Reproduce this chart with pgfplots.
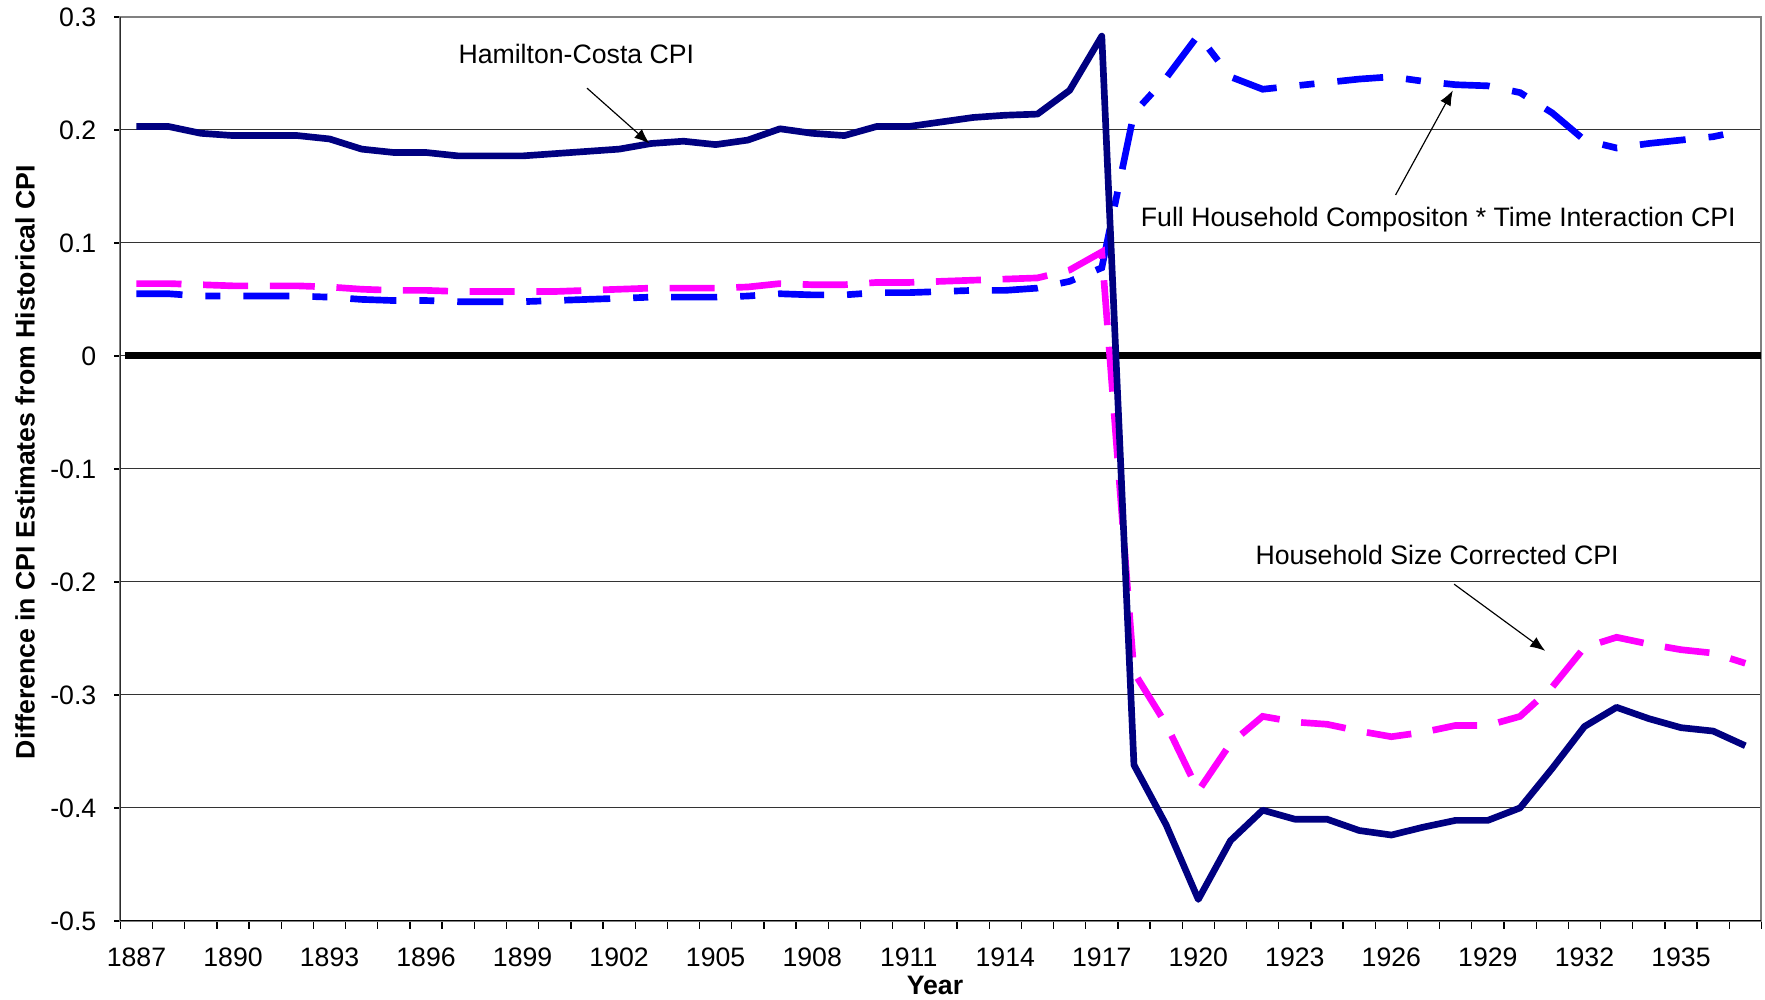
\documentclass[border=0pt]{standalone}
\usepackage{pgfplots}
\pgfplotsset{compat=1.18}
\usepackage{pgfplotstable}
\usepackage{fontspec}
\setmainfont{Liberation Sans}
\usetikzlibrary{arrows.meta}
\definecolor{navyc}{RGB}{0,0,128}
\definecolor{bluec}{RGB}{0,0,255}
\definecolor{magc}{RGB}{255,0,255}
\newcommand{\fs}{\fontsize{8}{9.6}\selectfont}

\pgfplotstableread{
year ham hsc full
1887 0.203 0.064 0.055
1888 0.203 0.064 0.055
1889 0.197 0.063 0.053
1890 0.195 0.062 0.053
1891 0.195 0.062 0.053
1892 0.195 0.062 0.053
1893 0.192 0.061 0.052
1894 0.183 0.059 0.050
1895 0.180 0.058 0.049
1896 0.180 0.058 0.049
1897 0.177 0.057 0.048
1898 0.177 0.057 0.048
1899 0.177 0.057 0.048
1900 0.179 0.057 0.049
1901 0.181 0.058 0.050
1902 0.183 0.059 0.051
1903 0.188 0.060 0.052
1904 0.190 0.060 0.052
1905 0.187 0.060 0.052
1906 0.191 0.061 0.053
1907 0.201 0.064 0.055
1908 0.197 0.063 0.054
1909 0.195 0.063 0.054
1910 0.203 0.065 0.056
1911 0.203 0.065 0.056
1912 0.207 0.066 0.057
1913 0.211 0.067 0.058
1914 0.213 0.068 0.058
1915 0.214 0.069 0.060
1916 0.235 0.076 0.066
1917 0.283 0.092 0.078
1918 -0.362 -0.280 0.215
1919 -0.415 -0.326 0.246
1920 -0.481 -0.385 0.284
1921 -0.429 -0.343 0.247
1922 -0.402 -0.319 0.236
1923 -0.410 -0.324 0.239
1924 -0.410 -0.326 0.242
1925 -0.420 -0.332 0.245
1926 -0.424 -0.337 0.247
1927 -0.417 -0.333 0.243
1928 -0.411 -0.327 0.240
1929 -0.411 -0.327 0.239
1930 -0.400 -0.319 0.233
1931 -0.365 -0.293 0.215
1932 -0.328 -0.258 0.191
1933 -0.311 -0.249 0.184
1934 -0.321 -0.255 0.188
1935 -0.329 -0.260 0.191
1936 -0.332 -0.263 0.194
1937 -0.345 -0.272 0.200
}\datatable

\begin{document}
\begin{tikzpicture}
\path[use as bounding box] (-36.12pt,-23.46pt) rectangle (493.38pt,276.27pt);
\begin{axis}[
  at={(0,0)}, anchor=south west,
  scale only axis, width=492.3pt, height=271.2pt,
  xmin=1886.5, xmax=1937.5, ymin=-0.5, ymax=0.3,
  axis line style={draw=gray, line width=0.6pt},
  xtick={1887,1890,...,1935},
  minor xtick={1886.5,1887.5,...,1937.5},
  ytick={-0.5,-0.4,-0.3,-0.2,-0.1,0,0.1,0.2,0.3},
  major x tick style={draw=none},
  tick align=outside,
  tick pos=left,
  major tick length=1.8pt, minor tick length=2.4pt,
  tick style={black, line width=0.4pt},
  ymajorgrids, grid style={black!80, line width=0.35pt},
  /pgf/number format/assume math mode=true,
  /pgf/number format/set thousands separator={},
  yticklabel style={/pgf/number format/fixed, /pgf/number format/precision=1, font=\fs, xshift=-1.9pt},
  xticklabel style={font=\fs, yshift=-2.7pt},
  every axis y label/.style={at={(axis description cs:0,0.5075)}, xshift=-28.6pt, rotate=90, anchor=center, font=\fs\bfseries},
  every axis x label/.style={at={(axis description cs:0.4964,0)}, yshift=-19.3pt, anchor=center, font=\fs\bfseries},
  ylabel={Difference in CPI Estimates from Historical CPI},
  xlabel={Year},
]
\addplot[black, line width=2.1pt, forget plot] coordinates {(1886.65,0) (1937.5,0)};
\addplot[bluec, line width=2pt, dash pattern=on 13.8pt off 6.9pt on 4.5pt off 6.9pt] table[x=year, y=full] {\datatable};
\addplot[magc, line width=2pt, dash pattern=on 13.5pt off 6.5pt] table[x=year, y=hsc] {\datatable};
\addplot[navyc, line width=2pt, line join=round] table[x=year, y=ham] {\datatable};
\draw[black, line width=0.5pt] (rel axis cs:0,1) -- (rel axis cs:0,0);
\draw[black, line width=0.7pt] (rel axis cs:0,0) -- (rel axis cs:1,0);
\node[font=\fs] at (axis cs:1900.67,0.267) {Hamilton-Costa CPI};
\draw[-{Latex[length=4.5pt,width=3.5pt]}, line width=0.35pt] (axis cs:1901.0,0.237) -- (axis cs:1902.94,0.188);
\node[font=\fs] at (axis cs:1927.46,0.1205) {Full Household Compositon * Time Interaction CPI};
\draw[-{Latex[length=4.5pt,width=3.5pt]}, line width=0.35pt] (axis cs:1926.13,0.1424) -- (axis cs:1927.91,0.235);
\node[font=\fs] at (axis cs:1927.42,-0.1763) {Household Size Corrected CPI};
\draw[-{Latex[length=4.5pt,width=3.5pt]}, line width=0.35pt] (axis cs:1927.95,-0.202) -- (axis cs:1930.78,-0.261);
\end{axis}
\end{tikzpicture}
\end{document}
